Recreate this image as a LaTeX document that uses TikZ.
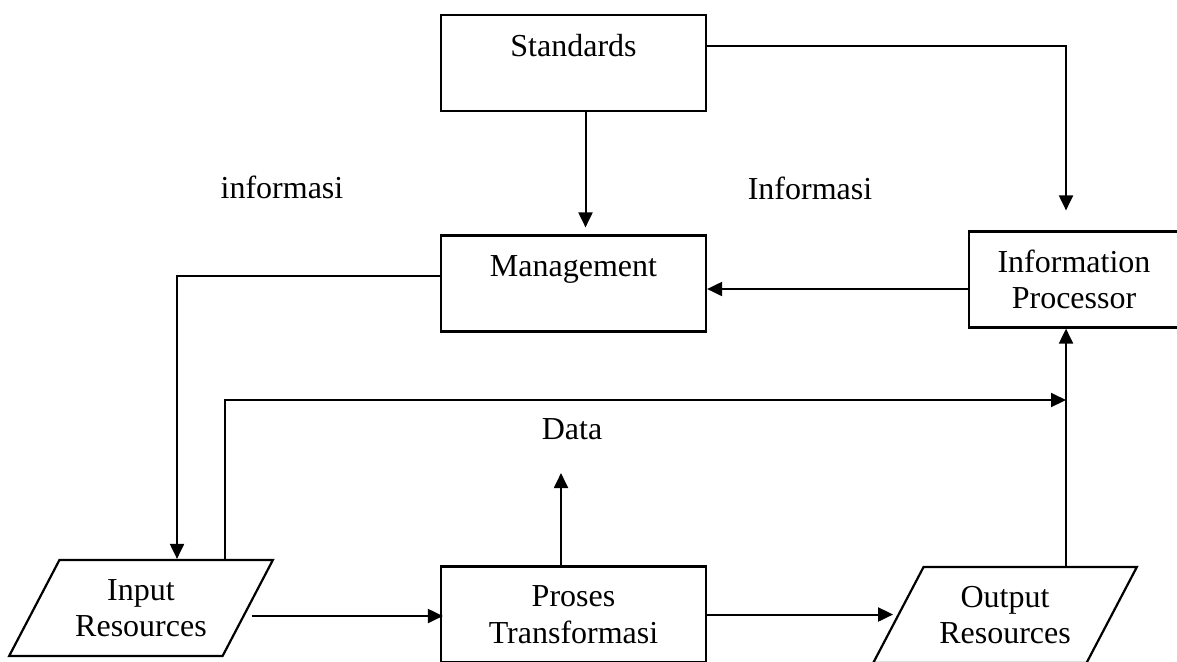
\documentclass[tikz,border=0pt]{standalone}
\usepackage{fontspec}
\setmainfont{Liberation Serif}
\usetikzlibrary{arrows.meta, shapes.geometric, positioning, calc}
\newcommand\diagfont{\fontsize{16}{18.3}\selectfont}
\tikzset{
  box/.style    = {draw=black, line width=1.1pt, minimum width=132.5pt,
                   minimum height=48pt, inner sep=0pt, align=center,
                   font=\diagfont},
  topbox/.style = {box, text height=12pt, text depth=19pt},
  io/.style     = {box, shape=trapezium, trapezium left angle=55,
                   trapezium right angle=125, trapezium stretches=true,
                   minimum width=132pt, minimum height=48pt},
  arr/.style    = {-{Triangle[length=7.5pt,width=7pt]}, line width=1pt},
  labl/.style   = {font=\diagfont, inner sep=0pt},
}

\begin{document}
\begin{tikzpicture}[x=0.5pt, y=-0.5pt]
  \useasboundingbox (0,0) rectangle (1177,661);

  % top row
  \node[topbox] (std)  at (573.5,63)    {Standards};
  \node[topbox] (mgmt) at (573.5,283.5) {Management};
  \node[box, minimum width=105pt] (proc) at (1074,279.5)
    {Information\\Processor};

  % bottom row
  \node[io]  (inp)   at (141,608)     {Input\\Resources};
  \node[box] (trans) at (573.5,614.5) {Proses\\Transformasi};
  \node[io]  (outp)  at (1005,615)    {Output\\Resources};

  % labels
  \node[labl] (infl) at (282,187) {informasi};
  \node[labl] (infr) at (810,188) {Informasi};
  \node[labl] (data) at (572,429) {Data};

  \coordinate (dj) at (1066,400);

  \draw[arr, shorten >=10pt] ([yshift=8.5pt]std.east) -| ([xshift=-4pt]proc.north);
  \draw[arr, shorten >=3.5pt] ([xshift=6pt]std.south) -- ([xshift=6pt]mgmt.north);
  \draw[arr] ([yshift=-4.75pt]proc.west) -- ([yshift=-4.75pt]proc.west -| mgmt.east);
  \draw[arr] ([yshift=3.75pt]mgmt.west) -| ([xshift=18pt]inp.north);
  \draw[arr] ([xshift=42pt]inp.north) |- (dj);
  \draw[arr] ([xshift=30.5pt]outp.north) -- ([xshift=30.5pt]outp.north |- proc.south);
  \draw[arr] ([xshift=1.5pt,yshift=-4pt]inp.east) -- ([xshift=1.5pt,yshift=-4pt]inp.east -| trans.west);
  \draw[arr, shorten >=2pt] (trans.east) -- (trans.east -| outp.west);
  \draw[arr, shorten >=16.5pt] ([xshift=-6.25pt]trans.north) -- ([xshift=-6.25pt]trans.north |- data.south);

\end{tikzpicture}
\end{document}
